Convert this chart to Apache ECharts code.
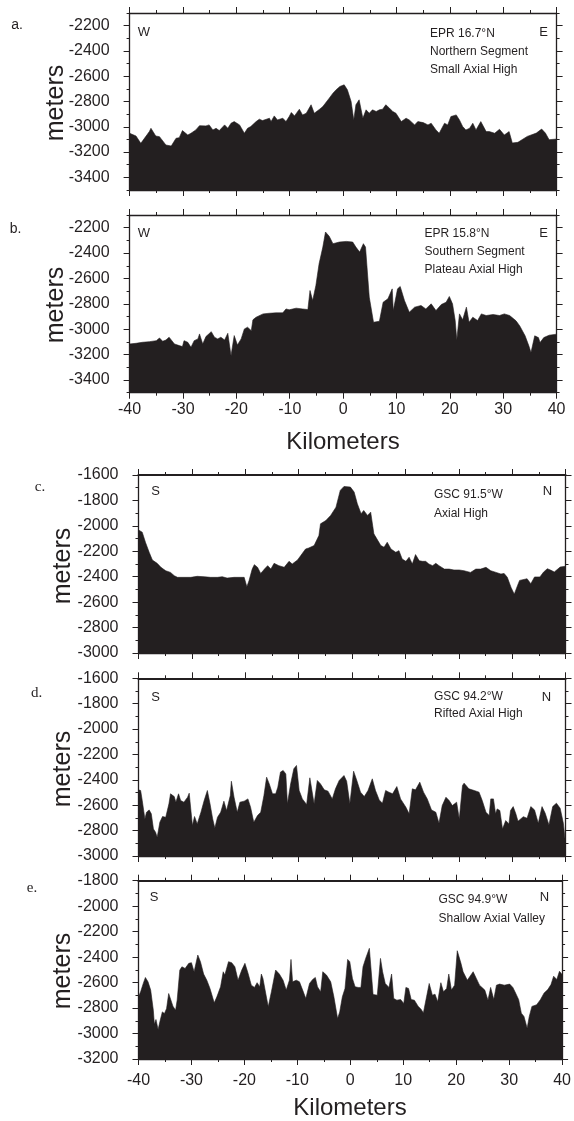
<!DOCTYPE html>
<html>
<head>
<meta charset="utf-8">
<script src="https://cdn.jsdelivr.net/npm/echarts@6/dist/echarts.min.js"></script>
<style>
html,body{margin:0;padding:0;background:#fff;}
#chart{width:574px;height:1121px;}
</style>
</head>
<body>
<div id="chart"></div>
<script>
// ---- Data: [distance km, depth m] ----
const profileA = [[-40,-3051],[-38.8,-3073],[-37.9,-3131],[-36.3,-3038],[-36.0,-3012],[-35.1,-3073],[-34.4,-3078],[-33.2,-3144],[-32.2,-3152],[-31.3,-3091],[-30.7,-3086],[-30.1,-3030],[-29.1,-3065],[-28.5,-3051],[-27.6,-3025],[-26.9,-2991],[-25.7,-2993],[-25.1,-2985],[-24.4,-3025],[-23.8,-3012],[-23.2,-3030],[-22.2,-2985],[-21.6,-3012],[-21.0,-2972],[-20.4,-2959],[-19.4,-2985],[-18.5,-3051],[-17.9,-3012],[-17.3,-2998],[-16.3,-2959],[-15.7,-2940],[-15.1,-2951],[-13.8,-2932],[-13.5,-2959],[-12.9,-2914],[-12.3,-2946],[-11.3,-2932],[-10.7,-2959],[-10.1,-2919],[-9.7,-2887],[-9.1,-2914],[-8.2,-2861],[-7.6,-2906],[-6.9,-2893],[-6.0,-2826],[-5.4,-2893],[-4.4,-2861],[-3.8,-2840],[-2.6,-2774],[-1.9,-2734],[-1.3,-2707],[-0.6,-2681],[0.2,-2668],[0.8,-2707],[1.5,-2800],[2.0,-2946],[2.4,-2826],[3.0,-2787],[3.7,-2932],[4.3,-2866],[4.9,-2893],[5.5,-2866],[6.2,-2879],[6.8,-2866],[7.4,-2861],[8.0,-2826],[8.7,-2853],[9.3,-2879],[9.9,-2893],[10.9,-2959],[11.8,-2932],[12.4,-2946],[13.4,-2985],[14.0,-2959],[15.0,-2967],[15.9,-2985],[16.5,-2972],[17.4,-3025],[18.0,-3051],[19.0,-2972],[19.6,-2985],[20.2,-2919],[21.2,-2906],[21.8,-2946],[22.4,-2998],[23.0,-3025],[23.7,-3012],[24.3,-2972],[24.9,-3025],[25.8,-2959],[26.8,-3038],[27.4,-3038],[28.4,-3051],[29.3,-3020],[30.2,-3065],[31.1,-3038],[31.7,-3128],[32.75,-3123],[34.5,-3076],[36.2,-3050],[37.2,-3018],[37.9,-3050],[38.6,-3102],[40,-3097]];

const profileB = [[-40,-3116],[-38.8,-3111],[-37.6,-3103],[-36.3,-3098],[-35.0,-3090],[-34.4,-3069],[-33.8,-3095],[-33.2,-3085],[-32.6,-3063],[-31.6,-3116],[-30.7,-3129],[-30.1,-3137],[-29.8,-3090],[-29.1,-3103],[-28.5,-3142],[-27.9,-3090],[-27.2,-3076],[-26.9,-3037],[-26.3,-3116],[-25.7,-3058],[-24.7,-3019],[-24.1,-3063],[-23.5,-3076],[-22.9,-3063],[-22.2,-3085],[-21.6,-3032],[-21.0,-3208],[-20.4,-3050],[-19.8,-3124],[-19.1,-3076],[-18.5,-2998],[-17.9,-2984],[-17.2,-3011],[-16.9,-2926],[-16.3,-2905],[-15.0,-2879],[-13.8,-2874],[-12.6,-2871],[-11.3,-2871],[-10.7,-2840],[-10.1,-2847],[-8.8,-2834],[-7.6,-2840],[-6.6,-2845],[-6.2,-2695],[-5.7,-2774],[-5.1,-2655],[-4.5,-2484],[-3.8,-2353],[-3.3,-2234],[-2.6,-2268],[-1.9,-2326],[-0.7,-2313],[0.6,-2308],[1.8,-2313],[2.4,-2353],[3.1,-2392],[3.8,-2326],[4.2,-2353],[4.9,-2747],[5.7,-2945],[6.8,-2937],[7.5,-2787],[8.4,-2760],[9.2,-2682],[9.4,-2853],[10.2,-2682],[10.7,-2663],[11.5,-2774],[12.4,-2866],[13.4,-2826],[14.6,-2813],[15.5,-2840],[16.5,-2800],[17.4,-2853],[18.4,-2805],[19.3,-2787],[19.9,-2742],[20.5,-2800],[21.0,-2932],[21.3,-3084],[21.8,-2879],[22.4,-2926],[23.1,-2826],[23.6,-2945],[24.3,-2905],[25.2,-2932],[25.9,-2879],[26.8,-2892],[28.1,-2884],[29.3,-2892],[30.2,-2879],[31.2,-2892],[32.4,-2934],[33.1,-2974],[34.1,-3052],[34.8,-3131],[35.2,-3184],[35.9,-3052],[36.6,-3066],[36.9,-3105],[37.6,-3066],[38.6,-3047],[40,-3039]];

const profileC = [[-40,-2032],[-39.3,-2050],[-38.7,-2129],[-38.0,-2208],[-37.4,-2269],[-36.5,-2295],[-35.8,-2326],[-34.9,-2353],[-34.0,-2366],[-33.3,-2392],[-32.7,-2405],[-31.5,-2405],[-30.2,-2405],[-29.0,-2397],[-27.7,-2400],[-26.5,-2405],[-25.2,-2405],[-24.3,-2400],[-23.4,-2411],[-22.1,-2405],[-20.9,-2405],[-20.2,-2405],[-19.7,-2479],[-19.3,-2432],[-18.7,-2340],[-18.3,-2305],[-17.7,-2326],[-17.1,-2374],[-16.4,-2340],[-15.8,-2313],[-15.2,-2340],[-14.6,-2295],[-13.7,-2313],[-12.7,-2326],[-11.8,-2279],[-11.2,-2300],[-10.2,-2268],[-9.6,-2234],[-8.7,-2182],[-8.1,-2174],[-7.1,-2155],[-6.2,-2076],[-5.9,-1984],[-4.9,-1958],[-4.0,-1918],[-3.0,-1853],[-2.2,-1721],[-1.5,-1690],[-0.3,-1695],[0.4,-1734],[1.0,-1826],[1.7,-1905],[2.2,-1879],[2.9,-1918],[3.5,-1892],[4.1,-2063],[5.4,-2155],[6.0,-2168],[6.6,-2129],[7.3,-2182],[8.2,-2208],[8.8,-2195],[9.4,-2261],[10.1,-2279],[10.7,-2247],[11.3,-2300],[11.9,-2226],[12.6,-2274],[13.2,-2279],[13.8,-2279],[14.4,-2300],[15.1,-2313],[15.7,-2295],[16.3,-2313],[17.3,-2340],[18.2,-2340],[19.1,-2347],[20.1,-2347],[21.0,-2353],[22.2,-2366],[23.2,-2340],[24.1,-2340],[25.1,-2326],[26.0,-2353],[27.0,-2366],[27.9,-2379],[28.5,-2374],[29.1,-2405],[29.8,-2484],[30.4,-2537],[31.0,-2471],[31.4,-2429],[32.8,-2416],[33.5,-2455],[34.2,-2402],[35.2,-2402],[35.9,-2363],[36.6,-2337],[37.3,-2350],[37.9,-2363],[39.0,-2324],[40,-2318]];

const profileD = [[-40,-2479],[-39.6,-2484],[-39.3,-2563],[-38.8,-2708],[-38.5,-2655],[-38.0,-2637],[-37.6,-2668],[-37.2,-2787],[-36.8,-2813],[-36.5,-2853],[-36.0,-2734],[-35.5,-2689],[-34.9,-2695],[-34.3,-2589],[-34.0,-2510],[-33.3,-2532],[-33.0,-2576],[-32.5,-2510],[-32.1,-2563],[-31.5,-2576],[-30.8,-2537],[-30.5,-2505],[-29.9,-2760],[-29.5,-2689],[-29.0,-2747],[-28.3,-2655],[-27.7,-2563],[-27.1,-2484],[-26.6,-2589],[-26.1,-2708],[-25.7,-2779],[-25.2,-2695],[-24.6,-2655],[-24.0,-2568],[-23.5,-2642],[-22.8,-2524],[-22.6,-2411],[-22.1,-2537],[-21.5,-2655],[-21.0,-2576],[-20.2,-2568],[-19.5,-2550],[-19.0,-2616],[-18.4,-2734],[-17.7,-2681],[-17.1,-2655],[-16.5,-2524],[-16.0,-2379],[-15.5,-2432],[-14.9,-2510],[-14.3,-2510],[-13.9,-2458],[-13.4,-2339],[-12.9,-2326],[-12.4,-2353],[-12.1,-2589],[-11.5,-2432],[-10.9,-2313],[-10.4,-2287],[-9.9,-2484],[-9.3,-2550],[-8.5,-2595],[-7.9,-2384],[-7.6,-2392],[-7.1,-2589],[-6.5,-2405],[-5.9,-2432],[-5.2,-2479],[-4.5,-2489],[-3.7,-2550],[-3.1,-2471],[-2.4,-2405],[-1.5,-2366],[-1.0,-2411],[-0.4,-2589],[0.3,-2332],[0.9,-2405],[1.6,-2497],[2.3,-2532],[3.0,-2484],[3.8,-2392],[4.4,-2484],[5.1,-2558],[5.7,-2584],[6.3,-2484],[6.9,-2497],[7.6,-2510],[8.4,-2453],[9.1,-2550],[10.1,-2616],[10.7,-2668],[11.3,-2471],[11.9,-2479],[12.7,-2418],[13.4,-2497],[14.1,-2550],[14.9,-2637],[15.7,-2655],[16.3,-2742],[16.9,-2603],[17.6,-2537],[18.2,-2563],[18.8,-2603],[19.6,-2576],[20.1,-2708],[20.7,-2445],[21.0,-2426],[21.9,-2471],[22.9,-2484],[23.8,-2497],[24.4,-2563],[25.1,-2655],[25.7,-2681],[26.0,-2550],[26.5,-2550],[26.9,-2668],[27.2,-2629],[27.7,-2642],[28.2,-2787],[28.8,-2721],[29.4,-2747],[29.7,-2642],[30.2,-2611],[30.7,-2668],[31.1,-2726],[32.1,-2690],[32.8,-2703],[33.5,-2611],[34.2,-2637],[34.9,-2742],[35.6,-2611],[36.2,-2663],[36.9,-2755],[37.6,-2611],[38.3,-2584],[39.0,-2624],[39.6,-2742],[40,-2900]];

const profileE = [[-40,-2712],[-39.6,-2672],[-39.1,-2607],[-38.7,-2560],[-38.2,-2594],[-37.7,-2659],[-37.2,-2817],[-37.0,-2927],[-36.7,-2890],[-36.3,-2969],[-35.9,-2896],[-35.5,-2830],[-35.1,-2843],[-34.7,-2804],[-34.3,-2686],[-34.0,-2680],[-33.5,-2785],[-33.0,-2817],[-32.7,-2738],[-32.2,-2502],[-31.8,-2476],[-31.2,-2489],[-30.5,-2449],[-30.0,-2444],[-29.5,-2515],[-28.8,-2384],[-28.3,-2436],[-27.7,-2533],[-27.1,-2581],[-26.5,-2646],[-25.7,-2759],[-25.2,-2712],[-24.5,-2633],[-24.0,-2515],[-23.7,-2541],[-23.0,-2436],[-22.4,-2444],[-21.8,-2476],[-21.2,-2581],[-20.5,-2502],[-19.9,-2449],[-19.3,-2528],[-18.7,-2620],[-18.1,-2638],[-17.6,-2601],[-17.1,-2633],[-16.8,-2533],[-16.5,-2567],[-15.5,-2790],[-14.9,-2672],[-14.1,-2502],[-13.4,-2533],[-12.7,-2581],[-12.1,-2659],[-11.5,-2581],[-11.2,-2418],[-10.9,-2594],[-10.2,-2581],[-9.6,-2594],[-9.0,-2659],[-8.4,-2725],[-7.7,-2607],[-7.1,-2575],[-6.6,-2560],[-6.2,-2633],[-5.6,-2672],[-5.2,-2515],[-4.5,-2541],[-3.7,-2594],[-3.1,-2712],[-2.4,-2882],[-2.0,-2830],[-1.5,-2712],[-1.0,-2646],[-0.5,-2418],[-0.1,-2436],[0.4,-2567],[0.9,-2633],[1.5,-2638],[2.0,-2638],[2.4,-2476],[2.9,-2410],[3.6,-2331],[4.3,-2693],[5.1,-2699],[5.7,-2410],[6.1,-2515],[6.6,-2607],[7.3,-2638],[7.8,-2533],[8.2,-2725],[8.8,-2738],[9.5,-2733],[10.1,-2764],[10.5,-2638],[11.0,-2646],[11.5,-2733],[12.1,-2738],[12.8,-2785],[13.4,-2811],[13.8,-2838],[14.4,-2712],[14.9,-2607],[15.5,-2699],[16.0,-2691],[16.5,-2751],[17.1,-2601],[17.6,-2672],[18.2,-2646],[18.6,-2533],[19.1,-2659],[19.7,-2620],[20.2,-2350],[20.9,-2449],[21.3,-2515],[22.1,-2581],[23.2,-2515],[23.8,-2567],[24.4,-2620],[25.4,-2659],[26.0,-2738],[26.5,-2638],[27.1,-2733],[27.6,-2620],[28.2,-2612],[29.1,-2620],[30.1,-2612],[30.7,-2638],[31.1,-2672],[31.8,-2734],[32.3,-2840],[32.8,-2866],[33.4,-2958],[33.8,-2866],[34.3,-2787],[35.2,-2774],[35.9,-2734],[36.6,-2682],[37.3,-2655],[37.9,-2616],[38.4,-2550],[39.0,-2576],[39.5,-2511],[40,-2537]];

// ---- Axis ranges & tick labels ----
const kmRange = [-40, 40];
const depthRangeEPR = [-3500, -2100];
const depthRangeGSC1 = [-3000, -1600];
const depthRangeGSC3 = [-3200, -1800];
const ticksEPR = [-3400,-3200,-3000,-2800,-2600,-2400,-2200];
const minorEPR = [-3500,-3300,-3100,-2900,-2700,-2500,-2300,-2100];
const ticksGSC1 = [-3000,-2800,-2600,-2400,-2200,-2000,-1800,-1600];
const minorGSC1 = [-2900,-2700,-2500,-2300,-2100,-1900,-1700];
const ticksGSC3 = [-3200,-3000,-2800,-2600,-2400,-2200,-2000,-1800];
const minorGSC3 = [-3100,-2900,-2700,-2500,-2300,-2100,-1900];

// ---- Panel texts ----
const panelLetters = ['a.','b.','c.','d.','e.'];
const leftDir = ['W','W','S','S','S'];
const rightDir = ['E','E','N','N','N'];
const panelNotes = [
  ['EPR 16.7°N','Northern Segment','Small Axial High'],
  ['EPR 15.8°N','Southern Segment','Plateau Axial High'],
  ['GSC 91.5°W','Axial High'],
  ['GSC 94.2°W','Rifted Axial High'],
  ['GSC 94.9°W','Shallow Axial Valley']
];
const profiles = [profileA, profileB, profileC, profileD, profileE];

const INK = '#231f20';
const SANS = '"Liberation Sans", Arial, sans-serif';
const SERIF = '"Liberation Serif", "Times New Roman", serif';

const layout = [
  {left:129.6, top:13,    width:427, height:177,   yr:depthRangeEPR,  maj:ticksEPR,  min:minorEPR,  xl:false, topW:1.3},
  {left:129.6, top:215,   width:427, height:177.7, yr:depthRangeEPR,  maj:ticksEPR,  min:minorEPR,  xl:true,  xm:9, topW:1.3},
  {left:138.5, top:475,   width:427, height:178,   yr:depthRangeGSC1, maj:ticksGSC1, min:minorGSC1, xl:false, topW:2.2},
  {left:138.5, top:678.3, width:427, height:177.7, yr:depthRangeGSC1, maj:ticksGSC1, min:minorGSC1, xl:false, topW:2.2},
  {left:138.5, top:880.7, width:427, height:178.3, yr:depthRangeGSC3, maj:ticksGSC3, min:minorGSC3, xl:true,  xm:14, topW:2.2}
];

const plain = v => String(v);
const grids = [], xAxes = [], yAxes = [], series = [];
const axLine = w => ({show:true, onZero:false, lineStyle:{color:INK, width:w}});
const noLine = {show:false, onZero:false};
layout.forEach((L, i) => {
  grids.push({left:L.left, top:L.top, width:L.width, height:L.height, containLabel:false});
  const xBase = {type:'value', gridIndex:i, min:kmRange[0], max:kmRange[1], interval:10,
    splitLine:{show:false}, minorSplitLine:{show:false},
    axisTick:{show:true, inside:false, length:6, lineStyle:{color:INK, width:1}},
    minorTick:{show:true, splitNumber:2, length:3, lineStyle:{color:INK, width:1}}};
  xAxes.push(Object.assign({}, xBase, {position:'bottom', axisLine:axLine(1.3),
    axisLabel:{show:L.xl, margin:L.xm || 10, color:INK, fontFamily:SANS, fontSize:16, formatter:plain}}));
  xAxes.push(Object.assign({}, xBase, {position:'top', axisLine:axLine(L.topW), axisLabel:{show:false}}));
  const yBase = {type:'value', gridIndex:i, min:L.yr[0], max:L.yr[1],
    splitLine:{show:false}, minorSplitLine:{show:false}};
  const firstY = yAxes.length;
  yAxes.push(Object.assign({}, yBase, {position:'left', axisLine:axLine(1.3),
    axisTick:{show:true, length:6, customValues:L.maj, lineStyle:{color:INK, width:1}},
    axisLabel:{show:true, customValues:L.maj, margin:20, color:INK, fontFamily:SANS, fontSize:16, formatter:plain}}));
  yAxes.push(Object.assign({}, yBase, {position:'left', axisLine:noLine,
    axisTick:{show:true, length:3, customValues:L.min, lineStyle:{color:INK, width:1}},
    axisLabel:{show:false}}));
  yAxes.push(Object.assign({}, yBase, {position:'right', axisLine:axLine(1.3),
    axisTick:{show:true, length:6, customValues:L.maj, lineStyle:{color:INK, width:1}},
    axisLabel:{show:false}}));
  yAxes.push(Object.assign({}, yBase, {position:'right', axisLine:noLine,
    axisTick:{show:true, length:3, customValues:L.min, lineStyle:{color:INK, width:1}},
    axisLabel:{show:false}}));
  series.push({type:'line', xAxisIndex:i*2, yAxisIndex:firstY, data:profiles[i],
    showSymbol:false, symbol:'none', smooth:false, clip:true, silent:true, z:1,
    lineStyle:{color:INK, width:0.6}, areaStyle:{color:INK, opacity:1, origin:'start'}});
});

// ---- Annotation text positions ----
const letterPos = [[17,25],[15.5,229],[40,487],[36.5,693],[32,888]];
const dirY = [32,233,491,697,897];
const leftDirX = [144,144,155.5,155.5,154];
const rightDirX = [543.5,543.5,547.5,546.5,544.5];
const noteX = [430,424.6,434,434,438.5];
const noteY0 = [33.3,233.3,495,697,900];
const noteStep = [18.3,18.3,18.3,17,18.3];
const metersPos = [[56,103],[56,305],[63,566],[63,769],[63,971]];

const graphics = [];
const txt = (x,y,text,font,size,align) => ({type:'text', x:x, y:y, silent:true,
  style:{text:text, fill:INK, fontFamily:font, fontSize:size, align:align||'center', verticalAlign:'middle'}});
for (let i = 0; i < 5; i++) {
  graphics.push(txt(letterPos[i][0], letterPos[i][1], panelLetters[i], i < 2 ? SANS : SERIF, i < 2 ? 14 : 15));
  graphics.push(txt(leftDirX[i], dirY[i], leftDir[i], SANS, 13));
  graphics.push(txt(rightDirX[i], dirY[i], rightDir[i], SANS, 13));
  panelNotes[i].forEach((t, k) => graphics.push(txt(noteX[i], noteY0[i] + k*noteStep[i], t, SANS, 12, 'left')));
  const m = txt(metersPos[i][0], metersPos[i][1], 'meters', SANS, 25);
  m.rotation = Math.PI/2;
  graphics.push(m);
}
graphics.push(txt(343, 442, 'Kilometers', SANS, 24));
graphics.push(txt(350, 1108, 'Kilometers', SANS, 24));

const chart = echarts.init(document.getElementById('chart'), null, {renderer:'canvas'});
chart.setOption({
  animation:false,
  backgroundColor:'#ffffff',
  grid:grids, xAxis:xAxes, yAxis:yAxes, series:series, graphic:graphics
});
</script>
</body>
</html>
